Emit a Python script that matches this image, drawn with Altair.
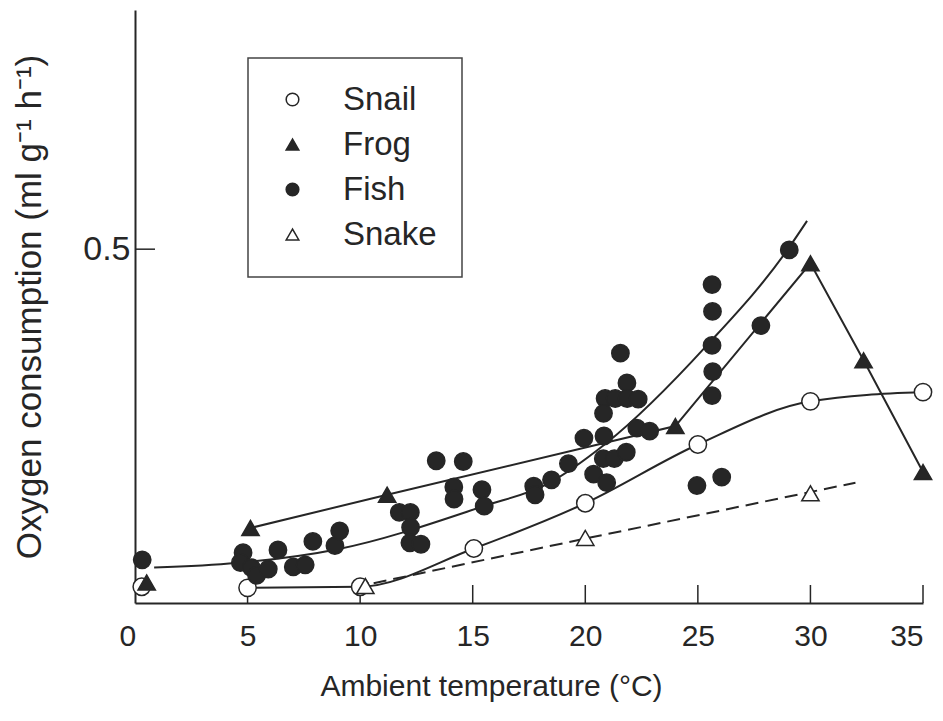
import altair as alt
import pandas as pd

# ---------------- data ----------------
species_order = ["Snail", "Frog", "Fish", "Snake"]

snail_T = [0.3, 5.0, 10.0, 15.05, 20.0, 25.0, 30.0, 35.0]
snail_V = [0.023, 0.0215, 0.023, 0.077, 0.141, 0.224, 0.285, 0.298]
snail_line_T = [5.0, 10.0, 15.05, 20.0, 25.0, 30.0, 35.0]
snail_line_V = [0.0215, 0.023, 0.077, 0.141, 0.224, 0.285, 0.298]

frog_T = [0.52, 5.13, 11.2, 24.0, 30.0, 32.36, 35.0]
frog_V = [0.029, 0.106, 0.153, 0.250, 0.480, 0.343, 0.185]
frog_line_T = [5.13, 11.2, 24.0, 30.0, 32.36, 35.0]
frog_line_V = [0.106, 0.153, 0.250, 0.480, 0.343, 0.185]

fish_T = [0.32, 4.8, 4.68, 5.17, 5.4, 5.92, 6.35, 7.03, 7.56, 7.9, 8.88, 9.09,
          13.38, 14.58, 14.16, 14.17, 15.41, 15.51, 11.74, 12.23, 12.24, 12.21,
          12.7, 17.71, 17.77, 18.5, 21.56, 21.85, 20.88, 21.33, 21.86, 22.35,
          20.81, 19.94, 20.83, 22.29, 22.86, 20.8, 21.29, 21.82, 20.37, 20.95,
          19.25, 29.06, 25.63, 25.65, 25.63, 25.66, 25.63, 27.8, 24.96, 26.06]
fish_V = [0.061, 0.071, 0.057, 0.050, 0.039, 0.048, 0.075, 0.051, 0.054, 0.087,
          0.081, 0.102, 0.201, 0.200, 0.164, 0.147, 0.160, 0.137, 0.128, 0.128,
          0.107, 0.085, 0.083, 0.165, 0.153, 0.174, 0.353, 0.311, 0.289, 0.289,
          0.289, 0.288, 0.268, 0.233, 0.236, 0.247, 0.243, 0.204, 0.204, 0.213,
          0.182, 0.170, 0.197, 0.499, 0.450, 0.412, 0.364, 0.327, 0.293, 0.392,
          0.166, 0.178]
fish_line_T = [0.85, 4.5, 9.0, 15.5, 18.3, 20.9, 25.4, 29.0, 29.85]
fish_line_V = [0.050, 0.0565, 0.076, 0.137, 0.168, 0.225, 0.364, 0.500, 0.540]

snake_T = [10.23, 20.0, 30.0]
snake_V = [0.024, 0.092, 0.155]
snake_line_T = [10.6, 20.0, 32.0]
snake_line_V = [0.028, 0.091, 0.170]

x_ticks = [5, 10, 15, 20, 25, 30, 35]
x_labels = [0, 5, 10, 15, 20, 25, 30, 35]
y_ticks = [0.5]

# ---------------- tables ----------------
def table(T, V, name):
    return pd.DataFrame({"T": T, "V": V, "species": name})

points_df = pd.concat([
    table(snail_T, snail_V, "Snail"),
    table(frog_T, frog_V, "Frog"),
    table(fish_T, fish_V, "Fish"),
    table(snake_T, snake_V, "Snake"),
], ignore_index=True)

INK = "#262626"
W, H = 788, 593
FONT = "Liberation Sans"

xscale = alt.Scale(domain=[0, 35], nice=False, zero=False)
yscale = alt.Scale(domain=[0, 0.838], nice=False, zero=False)

x_enc = alt.X("T:Q", scale=xscale, axis=alt.Axis(
    values=x_labels, ticks=False, tickSize=0, labelPadding=18,
    labelOffset={"condition": {"test": "datum.value === 0", "value": -16}, "value": 0},
    title="Ambient temperature (°C)", titlePadding=20, titleX=356, titleAlign="center",
    domainColor=INK, domainWidth=2))
y_enc = alt.Y("V:Q", scale=yscale, axis=alt.Axis(
    values=y_ticks, format=".1f", ticks=False, tickSize=0, labelPadding=5,
    labelFontSize=34,
    title="Oxygen consumption (ml g⁻¹ h⁻¹)", titlePadding=35, titleFontSize=35,
    domainColor=INK, domainWidth=2))

def line_layer(T, V, interp, dash=None):
    df = pd.DataFrame({"T": T, "V": V})
    kw = dict(color=INK, strokeWidth=2, interpolate=interp)
    if dash:
        kw["strokeDash"] = dash
    return alt.Chart(df).mark_line(**kw).encode(x=x_enc, y=y_enc)

snail_line = line_layer(snail_line_T, snail_line_V, "monotone")
frog_line = line_layer(frog_line_T, frog_line_V, "linear")
fish_line = line_layer(fish_line_T, fish_line_V, "monotone")
snake_line = line_layer(snake_line_T, snake_line_V, "linear", dash=[13, 7])

xtick_layer = alt.Chart(pd.DataFrame({"T": x_ticks})).mark_rule(
    color=INK, strokeWidth=1.5).encode(
    x=alt.X("T:Q", scale=xscale), y=alt.value(H), y2=alt.value(H - 18))

ytick_layer = alt.Chart(pd.DataFrame({"V": y_ticks})).mark_rule(
    color=INK, strokeWidth=1.5).encode(
    y=alt.Y("V:Q", scale=yscale), x=alt.value(0), x2=alt.value(20))

leg = alt.Legend(title=None, orient="none", legendX=113, legendY=48)
points = alt.Chart(points_df).mark_point(
    filled=True, strokeWidth=1.5, size=300, opacity=1).encode(
    x=x_enc, y=y_enc,
    shape=alt.Shape("species:N", legend=leg, scale=alt.Scale(
        domain=species_order, range=["circle", "triangle-up", "circle", "triangle-up"])),
    fill=alt.Fill("species:N", legend=leg, scale=alt.Scale(
        domain=species_order, range=["white", INK, INK, "white"])),
    stroke=alt.Stroke("species:N", legend=leg, scale=alt.Scale(
        domain=species_order, range=[INK, INK, INK, INK])),
)

chart = alt.layer(
    snake_line, snail_line, frog_line, fish_line, xtick_layer, ytick_layer, points
).properties(
    width=W, height=H,
    padding={"left": 4, "top": 2, "right": 0, "bottom": 2},
    background="white",
).configure_view(stroke=None).configure_axis(
    grid=False, labelFont=FONT, titleFont=FONT, labelFontSize=30, titleFontSize=30,
    labelColor=INK, titleColor=INK, titleFontWeight="normal",
).configure_legend(
    labelFont=FONT, labelFontSize=33, labelColor=INK,
    strokeColor="#444", strokeWidth=1.5, fillColor="white",
    padding=25, rowPadding=11, symbolSize=160, symbolStrokeColor=INK,
    symbolStrokeWidth=1.5, symbolOffset=3, labelOffset=34,
)

chart.save("out.html", embed_options={"renderer": "svg", "actions": False})
